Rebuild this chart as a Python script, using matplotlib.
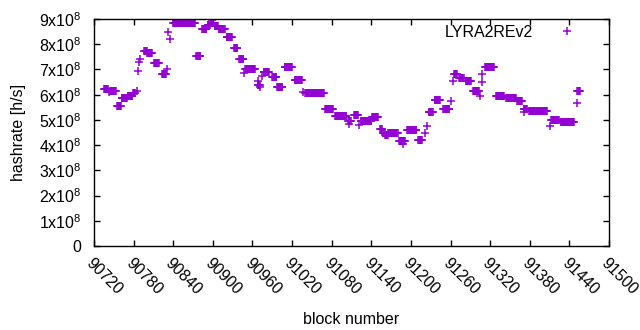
import numpy as np
import matplotlib
matplotlib.use("Agg")
import matplotlib.pyplot as plt

plt.rcParams['font.family'] = ['Liberation Sans', 'DejaVu Sans']
plt.rcParams['mathtext.fontset'] = 'custom'
plt.rcParams['mathtext.rm'] = 'Liberation Sans'
plt.rcParams['mathtext.default'] = 'regular'

# hashrate runs: consecutive blocks sharing one value
run_start = [90735, 90743, 90744, 90755, 90762, 90771, 90779, 90785, 90786, 90788,
             90790, 90796, 90801, 90811, 90823, 90830, 90832, 90835, 90840, 90875,
             90884, 90892, 90897, 90899, 90903, 90909, 90921, 90932, 90940, 90947,
             90949, 90968, 90968, 90972, 90974, 90977, 90990, 90997, 91009, 91024,
             91037, 91040, 91070, 91071, 91085, 91105, 91106, 91114, 91121, 91124,
             91141, 91153, 91157, 91161, 91166, 91182, 91188, 91194, 91211, 91221,
             91224, 91227, 91236, 91249, 91261, 91263, 91265, 91273, 91283, 91294,
             91305, 91307, 91308, 91312, 91329, 91344, 91361, 91371, 91372, 91379,
             91410, 91412, 91427, 91451, 91452]
run_end = [90741, 90743, 90753, 90761, 90770, 90778, 90782, 90785, 90786, 90788,
           90790, 90800, 90808, 90818, 90829, 90830, 90832, 90835, 90873, 90881,
           90890, 90895, 90900, 90899, 90908, 90918, 90929, 90937, 90946, 90947,
           90964, 90971, 90968, 90972, 90974, 90985, 90996, 91005, 91020, 91035,
           91037, 91068, 91070, 91082, 91102, 91109, 91106, 91120, 91121, 91140,
           91150, 91156, 91160, 91165, 91180, 91191, 91188, 91208, 91217, 91221,
           91224, 91233, 91244, 91258, 91261, 91263, 91270, 91280, 91291, 91303,
           91305, 91307, 91308, 91326, 91341, 91359, 91368, 91376, 91372, 91406,
           91410, 91424, 91447, 91451, 91456]
run_value = [6.22, 6.10, 6.15, 5.55, 5.87, 5.95, 6.05, 6.15, 6.95, 7.30,
             7.40, 7.75, 7.65, 7.25, 6.80, 7.00, 8.48, 8.20, 8.86, 7.52,
             8.62, 8.78, 8.85, 8.98, 8.72, 8.60, 8.30, 7.85, 7.40, 6.85,
             7.00, 6.40, 6.55, 6.32, 6.75, 6.90, 6.70, 6.30, 7.10, 6.60,
             6.10, 6.07, 5.45, 5.42, 5.17, 4.95, 4.85, 5.20, 4.80, 4.95,
             5.12, 4.65, 4.50, 4.40, 4.50, 4.15, 4.05, 4.60, 4.20, 4.50,
             4.75, 5.30, 5.80, 5.45, 5.75, 6.55, 6.80, 6.65, 6.55, 6.15,
             5.95, 6.80, 6.50, 7.10, 5.95, 5.85, 5.75, 5.45, 5.30, 5.35,
             4.75, 5.00, 4.92, 5.65, 6.15]

blocks = []
hashrate = []
for s, e, v in zip(run_start, run_end, run_value):
    for b in range(s, e + 1):
        blocks.append(b)
        hashrate.append(v * 1e8)

xticks = list(range(90720, 91501, 60))
yticks = [i * 1e8 for i in range(10)]
ylabels = ['0'] + ['%dx10$^{8}$' % i for i in range(1, 10)]

fig = plt.figure(figsize=(6.4, 3.3), dpi=100)
ax = fig.add_axes([94 / 640, 84 / 330, 515 / 640, 227 / 330])
ax.plot(blocks, hashrate, '+', color='#9400D3', markersize=6, markeredgewidth=1.1,
        label='LYRA2REv2')
ax.set_xlim(90720, 91500)
ax.set_ylim(0, 9e8)
ax.set_xticks(xticks)
ax.set_xticklabels([str(t) for t in xticks], rotation=-45, ha='left', va='top',
                   rotation_mode='anchor')
ax.set_yticks(yticks)
ax.set_yticklabels(ylabels)
ax.tick_params(direction='in', top=True, right=True, length=4, width=1,
               labelsize=11.5)
ax.tick_params(axis='y', pad=9)
ax.tick_params(axis='x', pad=7)
for sp in ax.spines.values():
    sp.set_linewidth(1)
ax.set_xlabel('block number', fontsize=11.5, labelpad=10)
ax.set_ylabel('hashrate [h/s]', fontsize=11.5, labelpad=9)
ax.legend(loc='upper right', markerfirst=False, frameon=False, fontsize=11.5,
          handlelength=2, handletextpad=1.1, borderpad=0, borderaxespad=0,
          bbox_to_anchor=(583 / 640, (330 - 25) / 330),
          bbox_transform=fig.transFigure)

fig.savefig('out.png', dpi=100)
